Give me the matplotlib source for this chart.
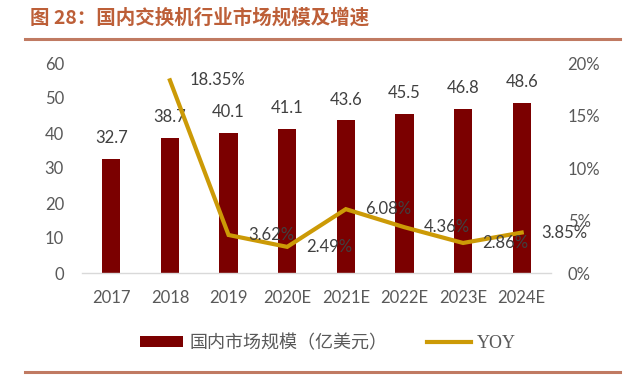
import matplotlib
matplotlib.use("Agg")
import matplotlib.pyplot as plt
from matplotlib.lines import Line2D
from matplotlib.patches import Patch
from matplotlib.ticker import FuncFormatter

categories = ["2017", "2018", "2019", "2020E", "2021E", "2022E", "2023E", "2024E"]
market_size = [32.7, 38.7, 40.1, 41.1, 43.6, 45.5, 46.8, 48.6]
yoy_years = ["2018", "2019", "2020E", "2021E", "2022E", "2023E", "2024E"]
yoy = [18.35, 3.62, 2.49, 6.08, 4.36, 2.86, 3.85]

title = "图 28：国内交换机行业市场规模及增速"
bar_label = "国内市场规模（亿美元）"
line_label = "YOY"

BAR_C = "#7B0000"
LINE_C = "#CC9A06"
TXT_C = "#404040"
TICK_C = "#595959"
TITLE_C = "#BD5F38"
RULE_C = "#C07A62"

plt.rcParams["font.family"] = ["Lato", "Noto Sans CJK SC", "DejaVu Sans"]

W, H = 640, 379
fig = plt.figure(figsize=(W / 100, H / 100), dpi=100)

def fx(px):
    return px / W

def fy(py):
    return 1 - py / H

ax = fig.add_axes([fx(82), fy(273), fx(551) - fx(82), fy(63) - fy(273)])
x = list(range(len(categories)))
ax.bar(x, market_size, width=0.31, color=BAR_C, zorder=2)
ax.set_xlim(-0.5, len(categories) - 0.5)
ax.set_ylim(0, 60)
ax.set_yticks([0, 10, 20, 30, 40, 50, 60])
ax.set_xticks(x)
ax.set_xticklabels(categories)
for s in ["top", "right", "left"]:
    ax.spines[s].set_visible(False)
ax.spines["bottom"].set_color("#D9D9D9")
ax.spines["bottom"].set_linewidth(1.0)
ax.tick_params(axis="both", length=0, labelsize=12, colors=TICK_C)
ax.tick_params(axis="y", pad=13)
ax.tick_params(axis="x", pad=12)

for xi, v in zip(x, market_size):
    ax.annotate(f"{v:.1f}", (xi, v), xytext=(0, 15), textcoords="offset points",
                ha="center", va="center", fontsize=12, color=TXT_C, zorder=5)

ax2 = ax.twinx()
ax2.set_ylim(0, 20)
ax2.set_yticks([0, 5, 10, 15, 20])
ax2.yaxis.set_major_formatter(FuncFormatter(lambda v, p: f"{v:.0f}%"))
for s in ["top", "right", "left", "bottom"]:
    ax2.spines[s].set_visible(False)
ax2.tick_params(axis="y", length=0, labelsize=12, colors=TICK_C, pad=12)

xl = [categories.index(c) for c in yoy_years]
ax2.plot(xl, yoy, color=LINE_C, linewidth=3, solid_joinstyle="miter", zorder=3)
for xi, v in zip(xl, yoy):
    ax2.annotate(f"{v:.2f}%", (xi, v), xytext=(14, 0), textcoords="offset points",
                 ha="left", va="center", fontsize=12, color=TXT_C, zorder=5)

# title and rules
fig.text(fx(30), fy(18), title, fontsize=14, fontweight="bold", color=TITLE_C,
         ha="left", va="center", family=["Noto Sans CJK SC", "DejaVu Sans"])
fig.add_artist(Line2D([fx(25), fx(620)], [fy(39), fy(39)], color=RULE_C, linewidth=2.2))
fig.add_artist(Line2D([fx(25), fx(620)], [fy(372), fy(372)], color=RULE_C, linewidth=2.2))

handles = [Patch(facecolor=BAR_C, edgecolor="none"),
           Line2D([0], [0], color=LINE_C, linewidth=3)]
leg = fig.legend(handles, [bar_label, line_label], loc="center", bbox_to_anchor=(fx(328), fy(343)),
                 ncol=2, frameon=False, handlelength=2.4, handleheight=0.55, columnspacing=2.2,
                 handletextpad=0.35,
                 prop={"family": ["Noto Sans CJK SC", "DejaVu Sans"], "size": 13})
for t in leg.get_texts():
    t.set_color(TICK_C)
leg.get_texts()[1].set_family(["Liberation Serif"])

fig.savefig("out.png", dpi=100)
